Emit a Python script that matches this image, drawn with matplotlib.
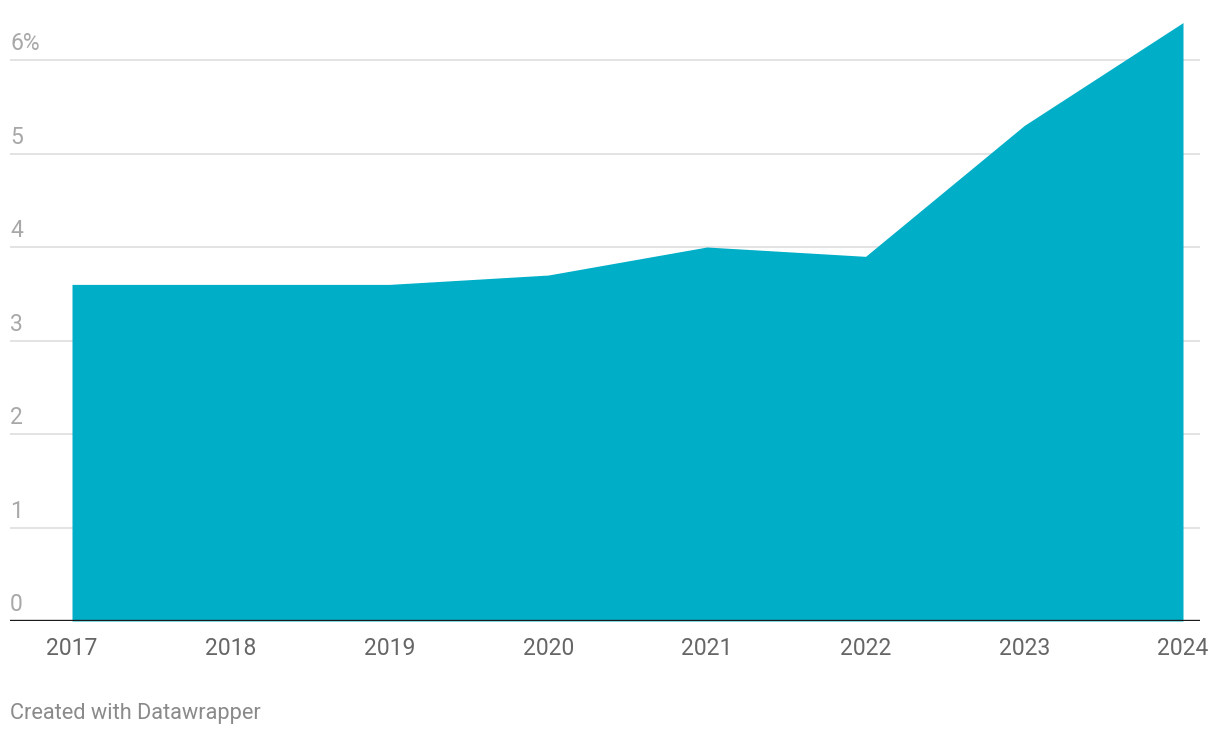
import matplotlib
matplotlib.use("Agg")
import matplotlib.pyplot as plt
from matplotlib.transforms import offset_copy

plt.rcParams['font.family'] = ['Roboto', 'DejaVu Sans']

years = [2017, 2018, 2019, 2020, 2021, 2022, 2023, 2024]
values = [3.6, 3.6, 3.6, 3.7, 4.0, 3.9, 5.3, 6.4]
y_ticks = [0, 1, 2, 3, 4, 5, 6]
y_labels = ["0", "1", "2", "3", "4", "5", "6%"]

W, H = 1220, 738
fig = plt.figure(figsize=(W / 100, H / 100), dpi=100)
left_px, right_px, top_px, bottom_px = 10, 1200, 15, 621
ax = fig.add_axes([left_px / W, (H - bottom_px) / H,
                   (right_px - left_px) / W, (bottom_px - top_px) / H])

px_per_year = (1183 - 72) / 7
ax.set_xlim(2017 - (72 - left_px) / px_per_year, 2024 + (right_px - 1183) / px_per_year)
px_per_unit = (621 - 60) / 6
ax.set_ylim(0, (bottom_px - top_px) / px_per_unit)

for t in y_ticks[1:]:
    ax.axhline(t, color='#e3e3e3', lw=1.4, zorder=0)

ax.fill_between(years, values, 0, color='#00aec7', lw=0, zorder=2)
ax.axhline(0, color='#1a1a1a', lw=1.7, zorder=3)

trans = offset_copy(ax.get_yaxis_transform(), fig=fig, x=0, y=7.0, units='points')
for t, lab in zip(y_ticks, y_labels):
    ax.text(0, t, lab, transform=trans, ha='left', va='baseline',
            fontsize=16.5, color='#a8a8a8', zorder=4)

ax.set_xticks(years)
ax.set_xticklabels([str(y) for y in years], fontsize=16.5, color='#666666')
ax.tick_params(axis='x', length=0, pad=11.8)
ax.set_yticks([])
for s in ax.spines.values():
    s.set_visible(False)

fig.text(10 / W, 1 - 714 / H, "Created with Datawrapper", ha='left', va='center',
         fontsize=15.7, color='#8a8a8a')

fig.savefig("out.png", dpi=100)
